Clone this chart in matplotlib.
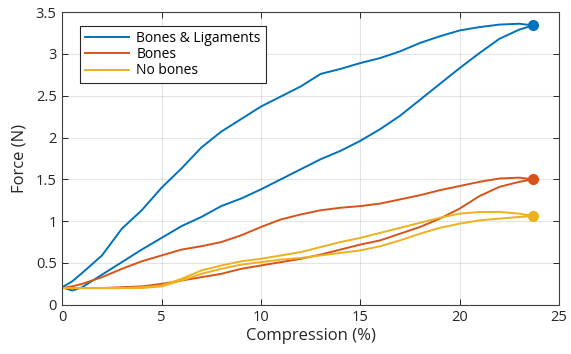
import numpy as np
import matplotlib
matplotlib.use("Agg")
import matplotlib.pyplot as plt

plt.rcParams['font.family'] = ['Open Sans', 'DejaVu Sans']

# compression (%) sample points, shared by both branches of every loop
comp = [0, 0.5, 1, 2, 3, 4, 5, 6, 7, 8, 9, 10, 11, 12, 13, 14, 15, 16, 17, 18,
        19, 20, 21, 22, 23, 23.7]

# force (N) - lower and upper branch of each hysteresis loop
bl_lower = [0.21, 0.17, 0.21, 0.36, 0.51, 0.66, 0.80, 0.94, 1.05, 1.18, 1.27, 1.38,
            1.50, 1.62, 1.74, 1.84, 1.96, 2.10, 2.26, 2.45, 2.64, 2.83, 3.01,
            3.18, 3.29, 3.34]
bl_upper = [0.21, 0.28, 0.38, 0.59, 0.91, 1.13, 1.40, 1.63, 1.88, 2.07, 2.22, 2.37,
            2.49, 2.61, 2.76, 2.82, 2.89, 2.95, 3.03, 3.13, 3.21, 3.28, 3.32,
            3.35, 3.36, 3.34]
bones_lower = [0.20, 0.20, 0.20, 0.20, 0.21, 0.22, 0.25, 0.29, 0.33, 0.37, 0.43, 0.47,
               0.51, 0.55, 0.60, 0.66, 0.72, 0.77, 0.85, 0.93, 1.03, 1.15, 1.30,
               1.41, 1.47, 1.50]
bones_upper = [0.20, 0.22, 0.25, 0.33, 0.43, 0.52, 0.59, 0.66, 0.70, 0.75, 0.83, 0.93,
               1.02, 1.08, 1.13, 1.16, 1.18, 1.21, 1.26, 1.31, 1.37, 1.42, 1.47,
               1.51, 1.52, 1.50]
nob_lower = [0.20, 0.20, 0.20, 0.20, 0.20, 0.20, 0.22, 0.29, 0.37, 0.43, 0.48, 0.51,
             0.54, 0.56, 0.59, 0.62, 0.65, 0.70, 0.77, 0.85, 0.92, 0.97, 1.01,
             1.03, 1.05, 1.06]
nob_upper = [0.20, 0.20, 0.20, 0.20, 0.20, 0.21, 0.23, 0.31, 0.41, 0.47, 0.52, 0.55,
             0.59, 0.63, 0.69, 0.75, 0.80, 0.86, 0.92, 0.98, 1.04, 1.09, 1.11,
             1.11, 1.09, 1.06]

labels = ['Bones & Ligaments', 'Bones', 'No bones']
colors = ['#0072BD', '#D95319', '#EDB120']

fig = plt.figure(figsize=(5.71, 3.54), dpi=100)
ax = fig.add_axes([0.109, 0.139, 0.870, 0.827])

x = np.array(comp)
loops = [(bl_lower, bl_upper), (bones_lower, bones_upper), (nob_lower, nob_upper)]
for (lo, up), lab, c in zip(loops, labels, colors):
    xs = np.concatenate([x, x[::-1]])
    ys = np.concatenate([lo, up[::-1]])
    ax.plot(xs, ys, color=c, lw=1.4, label=lab)
    ax.plot(x[-1], lo[-1], 'o', color=c, ms=7)

ax.set_xlim(0, 25)
ax.set_ylim(0, 3.5)
ax.set_xticks([0, 5, 10, 15, 20, 25])
ax.set_yticks([0, 0.5, 1, 1.5, 2, 2.5, 3, 3.5])
ax.set_yticklabels(['0', '0.5', '1', '1.5', '2', '2.5', '3', '3.5'])
ax.grid(True, color='#262626', alpha=0.12, lw=0.8)
ax.set_axisbelow(True)
ax.tick_params(direction='in', top=True, right=True, length=4, width=0.7,
               labelsize=10.5, colors='#262626', pad=4)
for s in ax.spines.values():
    s.set_color('#404040')
    s.set_linewidth(0.8)

ax.set_xlabel('Compression (%)', fontsize=12, color='#262626', labelpad=2)
ax.set_ylabel('Force (N)', fontsize=12, color='#262626', labelpad=6)

leg = ax.legend(loc='upper left', bbox_to_anchor=(0.036, 0.953), borderaxespad=0,
                fontsize=10, handlelength=3.2, handletextpad=0.5, labelspacing=0.1,
                fancybox=False, framealpha=1, borderpad=0.35)
leg.get_frame().set_edgecolor('#262626')
leg.get_frame().set_linewidth(0.8)

fig.savefig('out.png', dpi=100)
